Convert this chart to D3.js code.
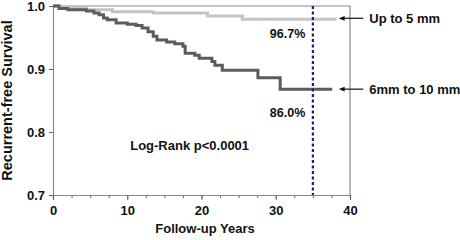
<!DOCTYPE html>
<html>
<head>
<meta charset="utf-8">
<script src="https://cdn.jsdelivr.net/npm/d3@7"></script>
<style>
  html, body { margin: 0; padding: 0; background: #fff; }
  text { font-family: "Liberation Sans", Arial, sans-serif; font-weight: bold; fill: #111; }
</style>
</head>
<body>
<div id="chart"></div>
<script>
// Kaplan-Meier steps
const smallTimes = [0, 1, 2.5, 4.5, 8, 13.5, 20.8, 25.5, 38.2];
const smallSurv = [1.0, 0.998, 0.996, 0.994, 0.991, 0.989, 0.984, 0.979, 0.979];

const largeTimes = [0, 0.8, 2, 4.5, 5.5, 6.2, 6.8, 7.3, 8.5, 10, 11.2, 12, 12.8, 13.5, 14, 15.3,
    16.4, 17.5, 17.8, 19.1, 19.7, 21.4, 21.8, 22.8, 27.6, 30.6, 37.6];
const largeSurv = [1.0, 0.996, 0.994, 0.992, 0.989, 0.986, 0.981, 0.978, 0.973, 0.971, 0.969, 0.965,
    0.959, 0.952, 0.946, 0.943, 0.940, 0.936, 0.925, 0.922, 0.917, 0.912, 0.906, 0.898, 0.886, 0.868, 0.868];

const seriesNames = ['Up to 5 mm', '6mm to 10 mm'];
const endLabels = ['96.7%', '86.0%'];
const xMajorTicks = [0, 10, 20, 30, 40];
const xMinorTicks = d3.range(0, 40.01, 2.5);
const yTicks = [0.7, 0.8, 0.9, 1.0];
const cutoffYear = 35;

const width = 460, height = 240;
const margin = {top: 6, right: 110, bottom: 45, left: 53};

const svg = d3.select('#chart').append('svg')
    .attr('width', width)
    .attr('height', height);

const x = d3.scaleLinear().domain([0, 40]).range([margin.left, width - margin.right]);
const y = d3.scaleLinear().domain([0.7, 1.0]).range([height - margin.bottom, margin.top]);

// frame top / right
svg.append('path')
    .attr('d', `M${x(0)},${y(1)}H${x(40)}V${y(0.7)}`)
    .attr('fill', 'none')
    .attr('stroke', '#8a8a8a')
    .attr('stroke-width', 1.2);

// axes
const yAxis = svg.append('g')
    .attr('transform', `translate(${x(0)},0)`)
    .call(d3.axisLeft(y).tickValues(yTicks).tickFormat(d3.format('.1f')).tickSize(4).tickPadding(4));

const xMinor = svg.append('g')
    .attr('transform', `translate(0,${y(0.7)})`)
    .call(d3.axisBottom(x).tickValues(xMinorTicks).tickFormat('').tickSize(3));

const xAxis = svg.append('g')
    .attr('transform', `translate(0,${y(0.7)})`)
    .call(d3.axisBottom(x).tickValues(xMajorTicks).tickSize(5).tickPadding(6));

[yAxis, xMinor, xAxis].forEach(g => {
    g.select('.domain').attr('stroke', '#8a8a8a').attr('stroke-width', 1.2);
    g.selectAll('.tick line').attr('stroke', '#666');
    g.selectAll('.tick text')
        .style('font-family', '"Liberation Sans", Arial, sans-serif')
        .style('font-weight', 'bold')
        .style('font-size', '13px')
        .attr('fill', '#111');
});

// curves
const line = d3.line()
    .x(d => x(d[0]))
    .y(d => y(d[1]))
    .curve(d3.curveStepAfter);

svg.append('path')
    .datum(smallTimes.map((t, i) => [t, smallSurv[i]]))
    .attr('d', line)
    .attr('fill', 'none')
    .attr('stroke', '#c4c4c4')
    .attr('stroke-width', 3);

svg.append('path')
    .datum(largeTimes.map((t, i) => [t, largeSurv[i]]))
    .attr('d', line)
    .attr('fill', 'none')
    .attr('stroke', '#5c5c5c')
    .attr('stroke-width', 3);

// dotted reference line
svg.append('line')
    .attr('x1', x(cutoffYear)).attr('x2', x(cutoffYear))
    .attr('y1', y(1.0)).attr('y2', y(0.7))
    .attr('stroke', '#1c1c7a')
    .attr('stroke-width', 2.2)
    .attr('stroke-dasharray', '3,2.5');

// percentage labels
svg.append('text').attr('x', x(29.2)).attr('y', y(0.949))
    .style('font-size', '12.5px').text(endLabels[0]);
svg.append('text').attr('x', x(29.2)).attr('y', y(0.824))
    .style('font-size', '12.5px').text(endLabels[1]);

// arrows + legend names
svg.append('defs').append('marker')
    .attr('id', 'arr')
    .attr('viewBox', '0 0 10 10')
    .attr('refX', 1).attr('refY', 5)
    .attr('markerWidth', 5).attr('markerHeight', 5)
    .attr('orient', 'auto-start-reverse')
    .append('path').attr('d', 'M0,1L10,5L0,9Z').attr('fill', '#111');

const arrowY = [smallSurv[smallSurv.length - 1] + 0.0015, largeSurv[largeSurv.length - 1]];
arrowY.forEach((v, i) => {
    svg.append('line')
        .attr('x1', x(41.8)).attr('x2', x(39.2))
        .attr('y1', y(v)).attr('y2', y(v))
        .attr('stroke', '#111')
        .attr('stroke-width', 1.2)
        .attr('marker-end', 'url(#arr)');
    svg.append('text')
        .attr('x', x(42.6))
        .attr('y', y(v) + 4.5)
        .style('font-size', '13px')
        .text(seriesNames[i]);
});

svg.append('text')
    .attr('x', x(10.4)).attr('y', 150)
    .style('font-size', '13px')
    .text('Log-Rank p<0.0001');

// axis titles
svg.append('text')
    .attr('x', 205).attr('y', 233)
    .attr('text-anchor', 'middle')
    .style('font-size', '13px')
    .text('Follow-up Years');

svg.append('text')
    .attr('transform', `translate(12,${(y(0.7) + y(1.0)) / 2}) rotate(-90)`)
    .attr('text-anchor', 'middle')
    .style('font-size', '14.5px')
    .text('Recurrent-free Survival');
</script>
</body>
</html>
